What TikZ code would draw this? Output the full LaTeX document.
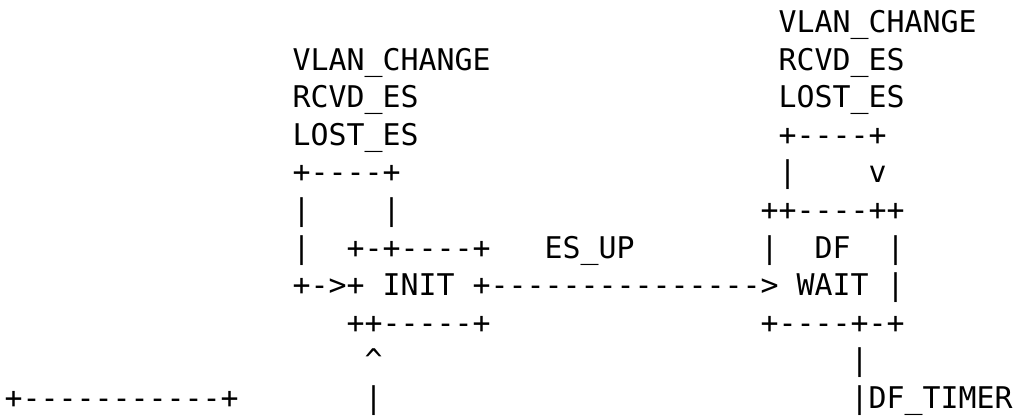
\documentclass[tikz,border=0pt]{standalone}
\usepackage{fontspec}
\setmonofont{DejaVu Sans Mono}

\begin{document}
\begin{tikzpicture}[x=9pt,y=-18.75pt,
txt/.style={font=\ttfamily\fontsize{14.95pt}{18pt}\selectfont,anchor=base west,inner sep=0pt,xshift=2.15pt,yshift=2.25pt}]
\useasboundingbox (0,0) rectangle (56.556,11.067);
% events on the DF WAIT loop
\foreach \r/\t/\n in {1/VLAN\_CHANGE/wvlan,2/RCVD\_ES/wrcvd,3/LOST\_ES/wlost}{\node[txt] (\n) at (43,\r){\t};}
% events on the INIT loop
\foreach \r/\t/\n in {2/VLAN\_CHANGE/ivlan,3/RCVD\_ES/ircvd,4/LOST\_ES/ilost}{\node[txt] (\n) at (16,\r){\t};}
% INIT self loop
\node[txt] (iltop) at (16,5){+----+};
\node[txt] (ill) at (16,6){|};\node[txt] (ilr) at (21,6){|};
\node[txt] (ill2) at (16,7){|};
\node[txt] (inittop) at (19,7){+-+----+};
\node[txt] (initin) at (16,8){+->+};
\node[txt] (init) at (21,8){INIT};
\node[txt] (esup) at (26,8){+--------------->};
\node[txt] (esuplab) at (30,7){ES\_UP};
\node[txt] (initbot) at (19,9){++-----+};
\node[txt] (initup) at (20,10){\textasciicircum};
\node[txt] (initbar) at (20,11){|};
% DF WAIT self loop
\node[txt] (wltop) at (43,4){+----+};
\node[txt] (wll) at (43,5){|};\node[txt] (wlr) at (48,5){v};
\node[txt] (waittop) at (42,6){++----++};
\node[txt] (wl1) at (42,7){|};\node[txt] (df) at (45,7){DF};\node[txt] (wr1) at (49,7){|};
\node[txt] (wait) at (44,8){WAIT};\node[txt] (wr2) at (49,8){|};
\node[txt] (waitbot) at (42,9){+----+-+};
\node[txt] (tbar) at (47,10){|};
\node[txt] (timer) at (47,11){|DF\_TIMER};
% box at lower left
\node[txt] (lbox) at (0,11){+-----------+};
\end{tikzpicture}
\end{document}
